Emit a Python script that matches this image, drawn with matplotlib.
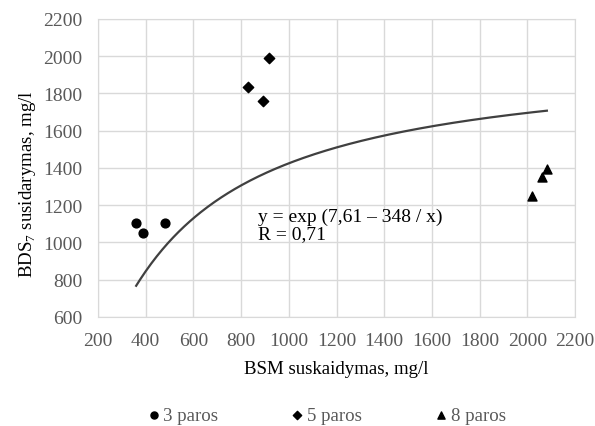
import numpy as np
import matplotlib
matplotlib.use("Agg")
import matplotlib.pyplot as plt

plt.rcParams['font.family'] = ['Liberation Serif', 'DejaVu Serif']
plt.rcParams['mathtext.fontset'] = 'custom'
plt.rcParams['mathtext.rm'] = 'Liberation Serif'

# data
x3 = [358, 388, 481]
y3 = [1103, 1053, 1103]
x5 = [829, 891, 917]
y5 = [1835, 1762, 1993]
x8 = [2020, 2062, 2082]
y8 = [1248, 1352, 1397]

# fitted curve y = exp(7.61 - 348/x)
a, b = 7.61, 348
x_fit = np.linspace(360, 2082, 300)
y_fit = np.exp(a - b / x_fit)

fig = plt.figure(figsize=(5.95, 4.27), dpi=100)
ax = fig.add_axes([0.1647, 0.2553, 0.8017, 0.6979])

grid_c = '#d9d9d9'
tick_c = '#595959'

ax.plot(x_fit, y_fit, color='#404040', lw=1.6, zorder=2)
ax.scatter(x3, y3, marker='o', s=40, color='black', zorder=3, label='3 paros')
ax.scatter(x5, y5, marker='D', s=28, color='black', zorder=3, label='5 paros')
ax.scatter(x8, y8, marker='^', s=42, color='black', zorder=3, label='8 paros')

ax.set_xlim(200, 2200)
ax.set_ylim(600, 2200)
ax.set_xticks(range(200, 2201, 200))
ax.set_yticks(range(600, 2201, 200))
ax.grid(True, color=grid_c, lw=1)
ax.set_axisbelow(True)
for s in ax.spines.values():
    s.set_color(grid_c)
ax.tick_params(length=0, labelsize=14, colors=tick_c, pad=11)

ax.set_xlabel('BSM suskaidymas, mg/l', fontsize=13.6, labelpad=8)
ax.set_ylabel('BDS$_7$ susidarymas, mg/l', fontsize=13.6)
ax.yaxis.set_label_coords(-0.125, 0.45)

ax.text(871, 1142, 'y = exp (7,61 – 348 / x)', fontsize=14, va='center')
ax.text(871, 1046, 'R = 0,71', fontsize=14, va='center')

leg = fig.legend(loc='center', bbox_to_anchor=(0.546, 0.026), ncol=3,
                 frameon=False, fontsize=13.6, handletextpad=0.0,
                 columnspacing=3.7, handlelength=1.0, markerscale=0.8)
for t in leg.get_texts():
    t.set_color(tick_c)

fig.savefig('out.png', dpi=100)
